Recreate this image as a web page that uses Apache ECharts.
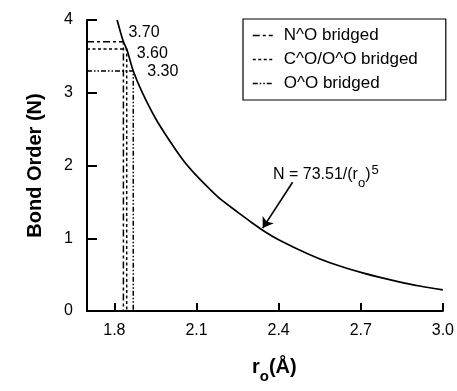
<!DOCTYPE html>
<html>
<head>
<meta charset="utf-8">
<script src="https://cdn.jsdelivr.net/npm/echarts@6/dist/echarts.min.js"></script>
<style>
html,body{margin:0;padding:0;background:#fff;}
#c{width:457px;height:391px;}
</style>
</head>
<body>
<div id="c"></div>
<script>
// Curve N = 73.51/(r_o)^5
var curveR = [1.81,1.833,1.845,1.869,1.90,1.95,2.00,2.05,2.10,2.15,2.19,2.25,2.30,2.35,2.40,2.51,2.59,2.71,2.84,2.92,3.00];
var curveN = [4.00,3.70,3.60,3.30,3.02,2.65,2.35,2.08,1.86,1.67,1.53,1.36,1.22,1.09,0.98,0.78,0.66,0.52,0.40,0.34,0.29];

// Bridged cases: bond order level and the r_o where it meets the curve
var bridgeNames = ['N^O bridged', 'C^O/O^O bridged', 'O^O bridged'];
var bridgeN = [3.70, 3.60, 3.30];
var bridgeR = [1.833, 1.845, 1.869];
var bridgeLabels = ['3.70', '3.60', '3.30'];

var xTicks = [1.8, 2.1, 2.4, 2.7, 3.0];

var xMin = 1.7, xMax = 3.0, yMin = 0, yMax = 4;

var FONT = 'Liberation Sans, Arial, sans-serif';
var dashes = [[7,3,3,3],[3,2.5],[5,2,1.5,2,1.5,2]];
var labelOffsets = [[0,-9],[5,4],[9,1]];

var chart = echarts.init(document.getElementById('c'));

var series = [{
  type: 'line',
  name: 'curve',
  data: curveR.map(function(r,i){return [r, curveN[i]];}),
  smooth: 0.3,
  symbol: 'none',
  lineStyle: {color:'#000', width:1.7},
  clip: true,
  markLine: {
    silent: true,
    symbol: ['none','arrow'],
    symbolSize: 10,
    label: {show:false},
    lineStyle: {color:'#000', width:1.6, type:'solid'},
    data: [[{coord:[2.451, 1.77]}, {coord:[2.342, 1.14]}]]
  }
}];

bridgeNames.forEach(function(nm, i){
  series.push({
    type: 'line',
    name: nm,
    symbol: 'none',
    color: '#000',
    lineStyle: {color:'#000', width:1.5, type: dashes[i]},
    data: [
      [xMin, bridgeN[i]],
      [bridgeR[i], bridgeN[i]],
      [bridgeR[i], yMin]
    ],
    markPoint: {
      silent: true,
      symbol: 'circle',
      symbolSize: 0,
      itemStyle: {color:'rgba(0,0,0,0)'},
      label: {show:true, position:'right', distance:5, offset: labelOffsets[i], color:'#000', fontSize:16, fontFamily:FONT, formatter: bridgeLabels[i]},
      data: [{coord:[bridgeR[i], bridgeN[i]]}]
    }
  });
});

chart.setOption({
  animation: false,
  backgroundColor: '#fff',
  grid: {left: 87, right: 14, top: 20, bottom: 80, containLabel: false},
  legend: {
    data: bridgeNames,
    orient: 'vertical',
    left: 243, top: 19,
    borderColor: '#000', borderWidth: 1.2, borderRadius: 0,
    padding: [8, 28, 8, 9],
    itemWidth: 20, itemHeight: 14, itemGap: 7,
    itemStyle: {opacity: 0},
    lineStyle: {color:'#000', width:1.5},
    textStyle: {color:'#000', fontSize:17, fontFamily:FONT, padding:[0,0,0,6]}
  },
  xAxis: {
    type: 'value', min: xMin, max: xMax,
    axisLine: {show:true, lineStyle:{color:'#000', width:2}},
    axisTick: {show:true, inside:true, length:8, lineStyle:{color:'#000', width:2}, customValues: xTicks},
    axisLabel: {color:'#000', fontSize:16, margin:12, fontFamily:FONT, customValues: xTicks, formatter: function(v){return v.toFixed(1);}},
    splitLine: {show:false}
  },
  yAxis: {
    type: 'value', min: yMin, max: yMax, interval: 1,
    name: 'Bond Order (N)', nameLocation: 'middle', nameGap: 42,
    nameTextStyle: {color:'#000', fontSize:20, fontWeight:'bold', fontFamily:FONT},
    axisLine: {show:true, lineStyle:{color:'#000', width:2}},
    axisTick: {show:true, inside:true, length:10, lineStyle:{color:'#000', width:2}},
    axisLabel: {color:'#000', fontSize:16, margin:14, fontFamily:FONT},
    splitLine: {show:false}
  },
  graphic: [
    {type:'text', left: 273, top: 160, style:{
      text: '{b|N = 73.51/(r}{s|o}{b|)}{p|5}',
      rich: {
        b: {fontSize:16, color:'#000', fontFamily:FONT, lineHeight:30, verticalAlign:'middle'},
        s: {fontSize:13, color:'#000', fontFamily:FONT, lineHeight:12, verticalAlign:'bottom'},
        p: {fontSize:13, color:'#000', fontFamily:FONT, lineHeight:12, verticalAlign:'top', padding:[4,0,0,1]}
      }
    }},
    {type:'text', left: 252, top: 357, style:{
      text: '{b|r}{s|o}{b|(Å)}',
      rich: {
        b: {fontSize:20, fontWeight:'bold', color:'#000', fontFamily:FONT, lineHeight:34, verticalAlign:'middle'},
        s: {fontSize:15, fontWeight:'bold', color:'#000', fontFamily:FONT, lineHeight:14, verticalAlign:'bottom'}
      }
    }}
  ],
  series: series
});
</script>
</body>
</html>
